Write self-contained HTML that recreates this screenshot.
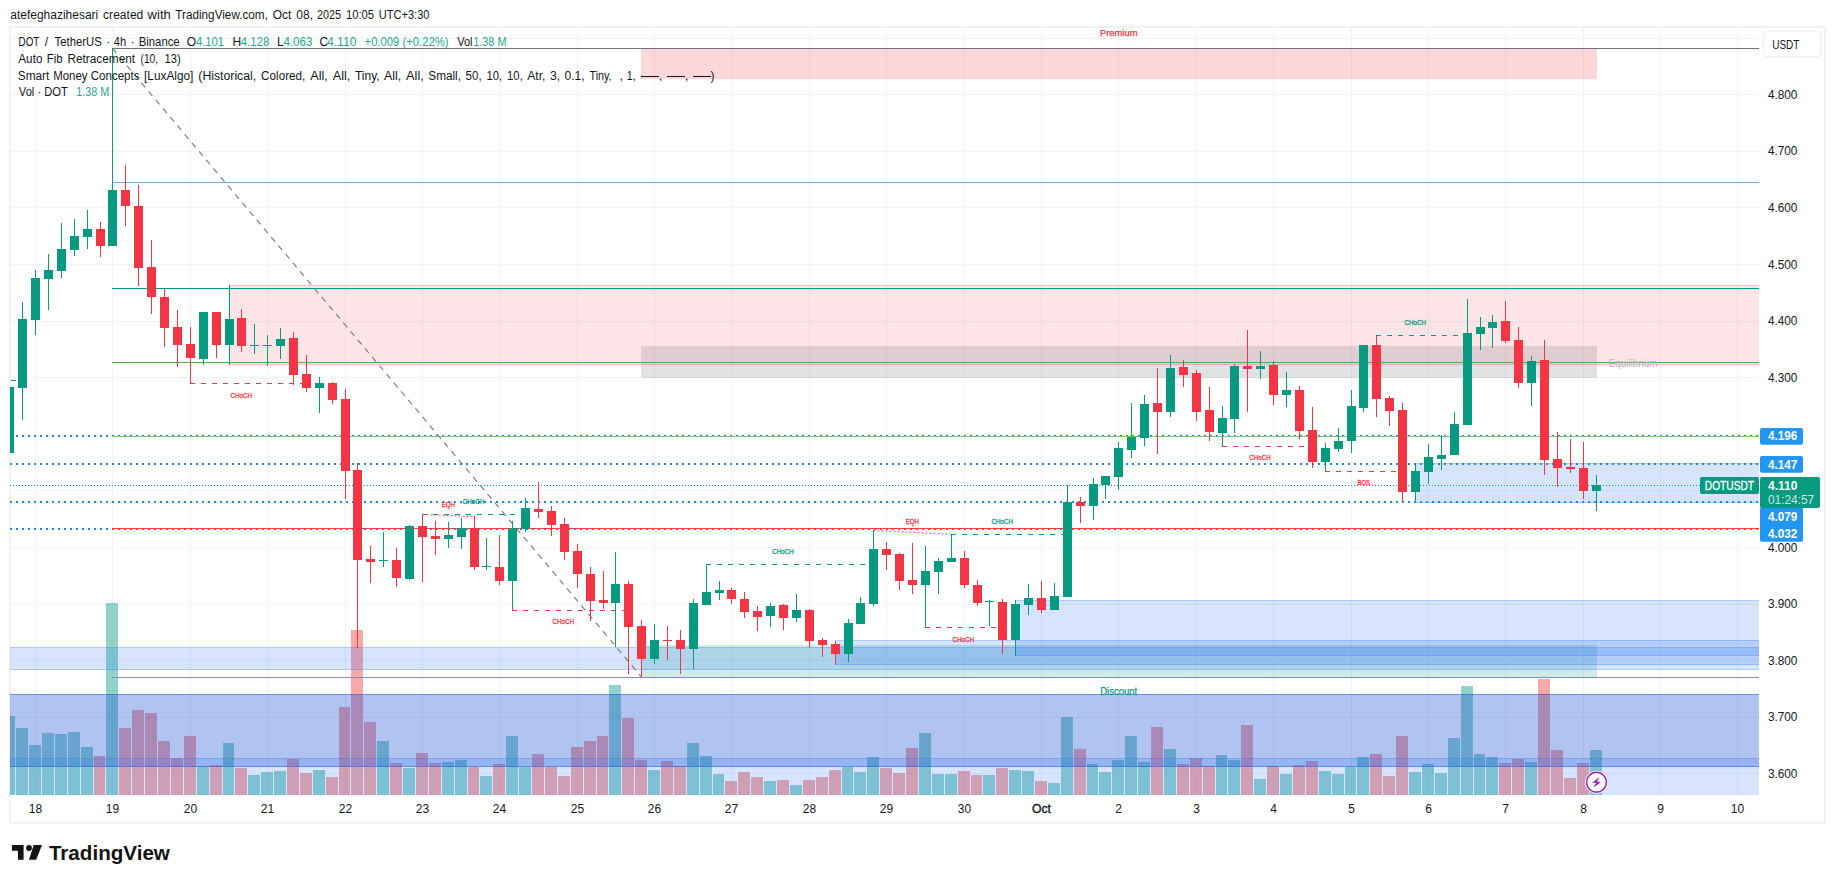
<!DOCTYPE html>
<html><head><meta charset="utf-8"><title>DOTUSDT chart</title><style>html,body{margin:0;padding:0;background:#fff}body{width:1835px;height:883px;overflow:hidden;font-family:"Liberation Sans",sans-serif}svg{display:block}</style></head><body>
<svg width="1835" height="883" viewBox="0 0 1835 883" font-family="&quot;Liberation Sans&quot;, sans-serif">
<rect width="1835" height="883" fill="#ffffff"/>
<g shape-rendering="crispEdges">
<rect x="9" y="26" width="1817" height="798" fill="#f2f2f3" />
<rect x="11" y="28" width="1813" height="794" fill="#ffffff" />
<rect x="35" y="28" width="1" height="767" fill="#f2f3f5" />
<rect x="112" y="28" width="1" height="767" fill="#f2f3f5" />
<rect x="190" y="28" width="1" height="767" fill="#f2f3f5" />
<rect x="267" y="28" width="1" height="767" fill="#f2f3f5" />
<rect x="345" y="28" width="1" height="767" fill="#f2f3f5" />
<rect x="422" y="28" width="1" height="767" fill="#f2f3f5" />
<rect x="499" y="28" width="1" height="767" fill="#f2f3f5" />
<rect x="577" y="28" width="1" height="767" fill="#f2f3f5" />
<rect x="654" y="28" width="1" height="767" fill="#f2f3f5" />
<rect x="731" y="28" width="1" height="767" fill="#f2f3f5" />
<rect x="809" y="28" width="1" height="767" fill="#f2f3f5" />
<rect x="886" y="28" width="1" height="767" fill="#f2f3f5" />
<rect x="964" y="28" width="1" height="767" fill="#f2f3f5" />
<rect x="1041" y="28" width="1" height="767" fill="#f2f3f5" />
<rect x="1118" y="28" width="1" height="767" fill="#f2f3f5" />
<rect x="1196" y="28" width="1" height="767" fill="#f2f3f5" />
<rect x="1273" y="28" width="1" height="767" fill="#f2f3f5" />
<rect x="1351" y="28" width="1" height="767" fill="#f2f3f5" />
<rect x="1428" y="28" width="1" height="767" fill="#f2f3f5" />
<rect x="1505" y="28" width="1" height="767" fill="#f2f3f5" />
<rect x="1583" y="28" width="1" height="767" fill="#f2f3f5" />
<rect x="1660" y="28" width="1" height="767" fill="#f2f3f5" />
<rect x="1737" y="28" width="1" height="767" fill="#f2f3f5" />
<rect x="10" y="773" width="1749" height="1" fill="#f2f3f5" />
<rect x="10" y="717" width="1749" height="1" fill="#f2f3f5" />
<rect x="10" y="660" width="1749" height="1" fill="#f2f3f5" />
<rect x="10" y="604" width="1749" height="1" fill="#f2f3f5" />
<rect x="10" y="547" width="1749" height="1" fill="#f2f3f5" />
<rect x="10" y="490" width="1749" height="1" fill="#f2f3f5" />
<rect x="10" y="434" width="1749" height="1" fill="#f2f3f5" />
<rect x="10" y="377" width="1749" height="1" fill="#f2f3f5" />
<rect x="10" y="321" width="1749" height="1" fill="#f2f3f5" />
<rect x="10" y="264" width="1749" height="1" fill="#f2f3f5" />
<rect x="10" y="207" width="1749" height="1" fill="#f2f3f5" />
<rect x="10" y="151" width="1749" height="1" fill="#f2f3f5" />
<rect x="10" y="94" width="1749" height="1" fill="#f2f3f5" />
<rect x="10" y="38" width="1749" height="1" fill="#f2f3f5" />
</g>
<g shape-rendering="crispEdges">
<rect x="10" y="716" width="5" height="79" fill="rgba(38,166,154,0.5)" />
<rect x="16" y="728" width="12" height="67" fill="rgba(38,166,154,0.5)" />
<rect x="29" y="745" width="12" height="50" fill="rgba(38,166,154,0.5)" />
<rect x="42" y="733" width="12" height="62" fill="rgba(38,166,154,0.5)" />
<rect x="55" y="734" width="12" height="61" fill="rgba(38,166,154,0.5)" />
<rect x="68" y="732" width="12" height="63" fill="rgba(38,166,154,0.5)" />
<rect x="81" y="747" width="12" height="48" fill="rgba(38,166,154,0.5)" />
<rect x="94" y="756" width="11" height="39" fill="rgba(239,83,80,0.5)" />
<rect x="106" y="603" width="12" height="192" fill="rgba(38,166,154,0.5)" />
<rect x="119" y="728" width="12" height="67" fill="rgba(239,83,80,0.5)" />
<rect x="132" y="710" width="12" height="85" fill="rgba(239,83,80,0.5)" />
<rect x="145" y="713" width="12" height="82" fill="rgba(239,83,80,0.5)" />
<rect x="158" y="741" width="12" height="54" fill="rgba(239,83,80,0.5)" />
<rect x="171" y="758" width="12" height="37" fill="rgba(239,83,80,0.5)" />
<rect x="184" y="736" width="12" height="59" fill="rgba(239,83,80,0.5)" />
<rect x="197" y="766" width="12" height="29" fill="rgba(38,166,154,0.5)" />
<rect x="210" y="765" width="12" height="30" fill="rgba(239,83,80,0.5)" />
<rect x="223" y="743" width="11" height="52" fill="rgba(38,166,154,0.5)" />
<rect x="235" y="768" width="12" height="27" fill="rgba(239,83,80,0.5)" />
<rect x="248" y="775" width="12" height="20" fill="rgba(38,166,154,0.5)" />
<rect x="261" y="772" width="12" height="23" fill="rgba(38,166,154,0.5)" />
<rect x="274" y="771" width="12" height="24" fill="rgba(38,166,154,0.5)" />
<rect x="287" y="759" width="12" height="36" fill="rgba(239,83,80,0.5)" />
<rect x="300" y="773" width="12" height="22" fill="rgba(239,83,80,0.5)" />
<rect x="313" y="770" width="12" height="25" fill="rgba(38,166,154,0.5)" />
<rect x="326" y="777" width="12" height="18" fill="rgba(239,83,80,0.5)" />
<rect x="339" y="707" width="11" height="88" fill="rgba(239,83,80,0.5)" />
<rect x="351" y="630" width="12" height="165" fill="rgba(239,83,80,0.5)" />
<rect x="364" y="722" width="12" height="73" fill="rgba(239,83,80,0.5)" />
<rect x="377" y="741" width="12" height="54" fill="rgba(38,166,154,0.5)" />
<rect x="390" y="763" width="12" height="32" fill="rgba(239,83,80,0.5)" />
<rect x="403" y="768" width="12" height="27" fill="rgba(38,166,154,0.5)" />
<rect x="416" y="753" width="12" height="42" fill="rgba(239,83,80,0.5)" />
<rect x="429" y="763" width="12" height="32" fill="rgba(239,83,80,0.5)" />
<rect x="442" y="762" width="12" height="33" fill="rgba(38,166,154,0.5)" />
<rect x="455" y="760" width="12" height="35" fill="rgba(38,166,154,0.5)" />
<rect x="468" y="767" width="11" height="28" fill="rgba(239,83,80,0.5)" />
<rect x="480" y="776" width="12" height="19" fill="rgba(38,166,154,0.5)" />
<rect x="493" y="764" width="12" height="31" fill="rgba(239,83,80,0.5)" />
<rect x="506" y="736" width="12" height="59" fill="rgba(38,166,154,0.5)" />
<rect x="519" y="767" width="12" height="28" fill="rgba(38,166,154,0.5)" />
<rect x="532" y="754" width="12" height="41" fill="rgba(239,83,80,0.5)" />
<rect x="545" y="767" width="12" height="28" fill="rgba(239,83,80,0.5)" />
<rect x="558" y="776" width="12" height="19" fill="rgba(239,83,80,0.5)" />
<rect x="571" y="747" width="12" height="48" fill="rgba(239,83,80,0.5)" />
<rect x="584" y="741" width="12" height="54" fill="rgba(239,83,80,0.5)" />
<rect x="597" y="736" width="11" height="59" fill="rgba(239,83,80,0.5)" />
<rect x="609" y="685" width="12" height="110" fill="rgba(38,166,154,0.5)" />
<rect x="622" y="718" width="12" height="77" fill="rgba(239,83,80,0.5)" />
<rect x="635" y="760" width="12" height="35" fill="rgba(239,83,80,0.5)" />
<rect x="648" y="770" width="12" height="25" fill="rgba(38,166,154,0.5)" />
<rect x="661" y="761" width="12" height="34" fill="rgba(239,83,80,0.5)" />
<rect x="674" y="766" width="12" height="29" fill="rgba(239,83,80,0.5)" />
<rect x="687" y="743" width="12" height="52" fill="rgba(38,166,154,0.5)" />
<rect x="700" y="756" width="12" height="39" fill="rgba(38,166,154,0.5)" />
<rect x="713" y="774" width="11" height="21" fill="rgba(38,166,154,0.5)" />
<rect x="725" y="781" width="12" height="14" fill="rgba(239,83,80,0.5)" />
<rect x="738" y="772" width="12" height="23" fill="rgba(239,83,80,0.5)" />
<rect x="751" y="777" width="12" height="18" fill="rgba(239,83,80,0.5)" />
<rect x="764" y="781" width="12" height="14" fill="rgba(38,166,154,0.5)" />
<rect x="777" y="780" width="12" height="15" fill="rgba(239,83,80,0.5)" />
<rect x="790" y="785" width="12" height="10" fill="rgba(38,166,154,0.5)" />
<rect x="803" y="780" width="12" height="15" fill="rgba(239,83,80,0.5)" />
<rect x="816" y="777" width="12" height="18" fill="rgba(239,83,80,0.5)" />
<rect x="829" y="770" width="12" height="25" fill="rgba(239,83,80,0.5)" />
<rect x="842" y="767" width="11" height="28" fill="rgba(38,166,154,0.5)" />
<rect x="854" y="772" width="12" height="23" fill="rgba(38,166,154,0.5)" />
<rect x="867" y="757" width="12" height="38" fill="rgba(38,166,154,0.5)" />
<rect x="880" y="768" width="12" height="27" fill="rgba(239,83,80,0.5)" />
<rect x="893" y="773" width="12" height="22" fill="rgba(239,83,80,0.5)" />
<rect x="906" y="748" width="12" height="47" fill="rgba(239,83,80,0.5)" />
<rect x="919" y="733" width="12" height="62" fill="rgba(38,166,154,0.5)" />
<rect x="932" y="774" width="12" height="21" fill="rgba(38,166,154,0.5)" />
<rect x="945" y="774" width="12" height="21" fill="rgba(38,166,154,0.5)" />
<rect x="958" y="771" width="12" height="24" fill="rgba(239,83,80,0.5)" />
<rect x="971" y="775" width="11" height="20" fill="rgba(239,83,80,0.5)" />
<rect x="983" y="775" width="12" height="20" fill="rgba(38,166,154,0.5)" />
<rect x="996" y="768" width="12" height="27" fill="rgba(239,83,80,0.5)" />
<rect x="1009" y="770" width="12" height="25" fill="rgba(38,166,154,0.5)" />
<rect x="1022" y="771" width="12" height="24" fill="rgba(38,166,154,0.5)" />
<rect x="1035" y="781" width="12" height="14" fill="rgba(239,83,80,0.5)" />
<rect x="1048" y="783" width="12" height="12" fill="rgba(38,166,154,0.5)" />
<rect x="1061" y="717" width="12" height="78" fill="rgba(38,166,154,0.5)" />
<rect x="1074" y="749" width="12" height="46" fill="rgba(239,83,80,0.5)" />
<rect x="1087" y="764" width="11" height="31" fill="rgba(38,166,154,0.5)" />
<rect x="1099" y="772" width="12" height="23" fill="rgba(38,166,154,0.5)" />
<rect x="1112" y="760" width="12" height="35" fill="rgba(38,166,154,0.5)" />
<rect x="1125" y="736" width="12" height="59" fill="rgba(38,166,154,0.5)" />
<rect x="1138" y="762" width="12" height="33" fill="rgba(38,166,154,0.5)" />
<rect x="1151" y="727" width="12" height="68" fill="rgba(239,83,80,0.5)" />
<rect x="1164" y="749" width="12" height="46" fill="rgba(38,166,154,0.5)" />
<rect x="1177" y="764" width="12" height="31" fill="rgba(239,83,80,0.5)" />
<rect x="1190" y="758" width="12" height="37" fill="rgba(239,83,80,0.5)" />
<rect x="1203" y="766" width="12" height="29" fill="rgba(239,83,80,0.5)" />
<rect x="1216" y="755" width="11" height="40" fill="rgba(38,166,154,0.5)" />
<rect x="1228" y="760" width="12" height="35" fill="rgba(38,166,154,0.5)" />
<rect x="1241" y="725" width="12" height="70" fill="rgba(239,83,80,0.5)" />
<rect x="1254" y="779" width="12" height="16" fill="rgba(38,166,154,0.5)" />
<rect x="1267" y="766" width="12" height="29" fill="rgba(239,83,80,0.5)" />
<rect x="1280" y="774" width="12" height="21" fill="rgba(38,166,154,0.5)" />
<rect x="1293" y="765" width="12" height="30" fill="rgba(239,83,80,0.5)" />
<rect x="1306" y="761" width="12" height="34" fill="rgba(239,83,80,0.5)" />
<rect x="1319" y="771" width="12" height="24" fill="rgba(38,166,154,0.5)" />
<rect x="1332" y="774" width="12" height="21" fill="rgba(38,166,154,0.5)" />
<rect x="1345" y="767" width="11" height="28" fill="rgba(38,166,154,0.5)" />
<rect x="1357" y="757" width="12" height="38" fill="rgba(38,166,154,0.5)" />
<rect x="1370" y="754" width="12" height="41" fill="rgba(239,83,80,0.5)" />
<rect x="1383" y="776" width="12" height="19" fill="rgba(239,83,80,0.5)" />
<rect x="1396" y="736" width="12" height="59" fill="rgba(239,83,80,0.5)" />
<rect x="1409" y="772" width="12" height="23" fill="rgba(38,166,154,0.5)" />
<rect x="1422" y="764" width="12" height="31" fill="rgba(38,166,154,0.5)" />
<rect x="1435" y="773" width="12" height="22" fill="rgba(38,166,154,0.5)" />
<rect x="1448" y="738" width="12" height="57" fill="rgba(38,166,154,0.5)" />
<rect x="1461" y="686" width="12" height="109" fill="rgba(38,166,154,0.5)" />
<rect x="1474" y="754" width="11" height="41" fill="rgba(38,166,154,0.5)" />
<rect x="1486" y="757" width="12" height="38" fill="rgba(38,166,154,0.5)" />
<rect x="1499" y="763" width="12" height="32" fill="rgba(239,83,80,0.5)" />
<rect x="1512" y="759" width="12" height="36" fill="rgba(239,83,80,0.5)" />
<rect x="1525" y="762" width="12" height="33" fill="rgba(38,166,154,0.5)" />
<rect x="1538" y="679" width="12" height="116" fill="rgba(239,83,80,0.5)" />
<rect x="1551" y="750" width="12" height="45" fill="rgba(239,83,80,0.5)" />
<rect x="1564" y="778" width="12" height="17" fill="rgba(239,83,80,0.5)" />
<rect x="1577" y="763" width="12" height="32" fill="rgba(239,83,80,0.5)" />
<rect x="1590" y="750" width="12" height="45" fill="rgba(38,166,154,0.5)" />
</g>
<g shape-rendering="crispEdges">
<rect x="641" y="49" width="956" height="30" fill="rgba(242,54,69,0.2)" />
<rect x="229" y="285" width="1530" height="80" fill="rgba(242,54,69,0.13)" />
<rect x="229" y="285" width="1530" height="1" fill="rgba(242,54,69,0.18)" />
<rect x="229" y="364" width="1530" height="1" fill="rgba(242,54,69,0.18)" />
<rect x="641" y="346" width="956" height="32" fill="rgba(120,123,134,0.22)" />
<rect x="641" y="645" width="956" height="32" fill="rgba(8,153,129,0.2)" />
<rect x="10" y="647" width="1749" height="23" fill="rgba(49,121,245,0.2)" />
<rect x="10" y="647" width="1749" height="1" fill="rgba(49,121,245,0.25)" />
<rect x="10" y="669" width="1749" height="1" fill="rgba(49,121,245,0.25)" />
<rect x="835" y="640" width="924" height="25" fill="rgba(49,121,245,0.2)" />
<rect x="835" y="640" width="924" height="1" fill="rgba(49,121,245,0.25)" />
<rect x="835" y="664" width="924" height="1" fill="rgba(49,121,245,0.25)" />
<rect x="1015" y="600" width="744" height="56" fill="rgba(49,121,245,0.2)" />
<rect x="1015" y="600" width="744" height="1" fill="rgba(49,121,245,0.25)" />
<rect x="1015" y="655" width="744" height="1" fill="rgba(49,121,245,0.25)" />
<rect x="1415" y="463" width="344" height="40" fill="rgba(49,121,245,0.2)" />
<rect x="1415" y="463" width="344" height="1" fill="rgba(49,121,245,0.25)" />
<rect x="1415" y="502" width="344" height="1" fill="rgba(49,121,245,0.25)" />
<rect x="10" y="694" width="1749" height="73" fill="rgba(16,73,213,0.33)" />
<rect x="10" y="694" width="1749" height="1" fill="rgba(16,73,213,0.4)" />
<rect x="10" y="766" width="1749" height="1" fill="rgba(16,73,213,0.4)" />
<rect x="10" y="758" width="1749" height="37" fill="rgba(49,121,245,0.2)" />
<rect x="10" y="758" width="1749" height="1" fill="rgba(49,121,245,0.25)" />
</g>
<g shape-rendering="crispEdges">
<rect x="112" y="48" width="1647" height="1" fill="#6f727d" />
<rect x="112" y="182" width="1647" height="1" fill="#64b5f6" />
<rect x="112" y="288" width="1647" height="1" fill="#009688" />
<rect x="112" y="362" width="1647" height="1" fill="#4caf50" />
<rect x="112" y="677" width="1647" height="1" fill="#8a8dbb" />
<path d="M10 436H1759" stroke="#1c86f2" stroke-width="2" stroke-dasharray="2 4" fill="none"/>
<path d="M10 464H1759" stroke="#1c86f2" stroke-width="2" stroke-dasharray="2 4" fill="none"/>
<path d="M10 502H1759" stroke="#1c86f2" stroke-width="2" stroke-dasharray="2 4" fill="none"/>
<path d="M10 529H1759" stroke="#1c86f2" stroke-width="2" stroke-dasharray="2 4" fill="none"/>
<rect x="112" y="528" width="1647" height="1" fill="#f44336" />
<rect x="112" y="436" width="1647" height="1" fill="#81c784" />
<path d="M10 485.5H1700" stroke="#089981" stroke-width="1" stroke-dasharray="1 2" fill="none"/>
</g>
<path d="M112.5 48.5L641.5 677" stroke="#787b86" stroke-width="1.15" stroke-dasharray="6 5.2" fill="none"/>
<g shape-rendering="crispEdges" fill="none" stroke-width="1">
<path d="M190 383.5H302" stroke="#f23645" stroke-dasharray="5 6"/>
<path d="M422 514.5H519" stroke="#089981" stroke-dasharray="5 6"/>
<path d="M512 610.5H625" stroke="#f23645" stroke-dasharray="5 6"/>
<path d="M706 564.5H867" stroke="#089981" stroke-dasharray="5 6"/>
<path d="M951 534.5H1064" stroke="#089981" stroke-dasharray="5 6"/>
<path d="M925 627.5H997" stroke="#f23645" stroke-dasharray="5 6"/>
<path d="M1222 446.5H1306" stroke="#f23645" stroke-dasharray="5 6"/>
<path d="M1325 471.5H1397" stroke="#f23645" stroke-dasharray="5 6"/>
<path d="M1376 335.5H1461" stroke="#089981" stroke-dasharray="5 6"/>
</g>
<path d="M422.5 514.5L474.5 516.5" stroke="rgba(242,54,69,0.7)" stroke-width="1.3" stroke-dasharray="2 2" fill="none"/>
<path d="M873.5 530.5L951.5 534.3" stroke="rgba(242,54,69,0.7)" stroke-width="1.3" stroke-dasharray="2 2" fill="none"/>
<g shape-rendering="crispEdges">
<rect x="11" y="380" width="5" height="1" fill="#089981" />
<rect x="10" y="387" width="4" height="66" fill="#089981" />
<rect x="22" y="302" width="1" height="118" fill="#089981" />
<rect x="18" y="319" width="9" height="69" fill="#089981" />
<rect x="35" y="270" width="1" height="65" fill="#089981" />
<rect x="31" y="278" width="9" height="42" fill="#089981" />
<rect x="48" y="254" width="1" height="56" fill="#089981" />
<rect x="44" y="270" width="9" height="9" fill="#089981" />
<rect x="61" y="223" width="1" height="55" fill="#089981" />
<rect x="57" y="249" width="9" height="22" fill="#089981" />
<rect x="74" y="219" width="1" height="37" fill="#089981" />
<rect x="70" y="236" width="9" height="14" fill="#089981" />
<rect x="87" y="210" width="1" height="39" fill="#089981" />
<rect x="83" y="229" width="9" height="8" fill="#089981" />
<rect x="100" y="222" width="1" height="35" fill="#f23645" />
<rect x="96" y="229" width="9" height="17" fill="#f23645" />
<rect x="112" y="48" width="1" height="198" fill="#089981" />
<rect x="108" y="190" width="9" height="56" fill="#089981" />
<rect x="125" y="165" width="1" height="61" fill="#f23645" />
<rect x="121" y="190" width="9" height="16" fill="#f23645" />
<rect x="138" y="185" width="1" height="101" fill="#f23645" />
<rect x="134" y="206" width="9" height="62" fill="#f23645" />
<rect x="151" y="240" width="1" height="74" fill="#f23645" />
<rect x="147" y="267" width="9" height="30" fill="#f23645" />
<rect x="164" y="288" width="1" height="59" fill="#f23645" />
<rect x="160" y="297" width="9" height="31" fill="#f23645" />
<rect x="177" y="310" width="1" height="57" fill="#f23645" />
<rect x="173" y="327" width="9" height="18" fill="#f23645" />
<rect x="190" y="327" width="1" height="56" fill="#f23645" />
<rect x="186" y="344" width="9" height="14" fill="#f23645" />
<rect x="203" y="312" width="1" height="53" fill="#089981" />
<rect x="199" y="312" width="9" height="47" fill="#089981" />
<rect x="216" y="312" width="1" height="46" fill="#f23645" />
<rect x="212" y="312" width="9" height="33" fill="#f23645" />
<rect x="229" y="285" width="1" height="80" fill="#089981" />
<rect x="225" y="319" width="9" height="26" fill="#089981" />
<rect x="241" y="309" width="1" height="43" fill="#f23645" />
<rect x="237" y="318" width="9" height="28" fill="#f23645" />
<rect x="254" y="324" width="1" height="30" fill="#089981" />
<rect x="250" y="345" width="9" height="1" fill="#089981" />
<rect x="267" y="335" width="1" height="31" fill="#089981" />
<rect x="263" y="345" width="9" height="1" fill="#089981" />
<rect x="280" y="328" width="1" height="31" fill="#089981" />
<rect x="276" y="339" width="9" height="7" fill="#089981" />
<rect x="293" y="332" width="1" height="53" fill="#f23645" />
<rect x="289" y="338" width="9" height="37" fill="#f23645" />
<rect x="306" y="355" width="1" height="37" fill="#f23645" />
<rect x="302" y="374" width="9" height="14" fill="#f23645" />
<rect x="319" y="377" width="1" height="36" fill="#089981" />
<rect x="315" y="383" width="9" height="5" fill="#089981" />
<rect x="332" y="382" width="1" height="22" fill="#f23645" />
<rect x="328" y="383" width="9" height="17" fill="#f23645" />
<rect x="345" y="389" width="1" height="110" fill="#f23645" />
<rect x="341" y="399" width="9" height="72" fill="#f23645" />
<rect x="357" y="463" width="1" height="185" fill="#f23645" />
<rect x="353" y="470" width="9" height="90" fill="#f23645" />
<rect x="370" y="546" width="1" height="37" fill="#f23645" />
<rect x="366" y="559" width="9" height="3" fill="#f23645" />
<rect x="383" y="532" width="1" height="35" fill="#089981" />
<rect x="379" y="560" width="9" height="1" fill="#089981" />
<rect x="396" y="548" width="1" height="39" fill="#f23645" />
<rect x="392" y="560" width="9" height="18" fill="#f23645" />
<rect x="409" y="525" width="1" height="55" fill="#089981" />
<rect x="405" y="526" width="9" height="53" fill="#089981" />
<rect x="422" y="514" width="1" height="68" fill="#f23645" />
<rect x="418" y="526" width="9" height="11" fill="#f23645" />
<rect x="435" y="521" width="1" height="34" fill="#f23645" />
<rect x="431" y="536" width="9" height="3" fill="#f23645" />
<rect x="448" y="522" width="1" height="26" fill="#089981" />
<rect x="444" y="535" width="9" height="4" fill="#089981" />
<rect x="461" y="518" width="1" height="31" fill="#089981" />
<rect x="457" y="528" width="9" height="9" fill="#089981" />
<rect x="474" y="516" width="1" height="54" fill="#f23645" />
<rect x="470" y="528" width="9" height="39" fill="#f23645" />
<rect x="486" y="538" width="1" height="32" fill="#089981" />
<rect x="482" y="566" width="9" height="1" fill="#089981" />
<rect x="499" y="535" width="1" height="50" fill="#f23645" />
<rect x="495" y="567" width="9" height="14" fill="#f23645" />
<rect x="512" y="521" width="1" height="89" fill="#089981" />
<rect x="508" y="528" width="9" height="53" fill="#089981" />
<rect x="525" y="498" width="1" height="34" fill="#089981" />
<rect x="521" y="508" width="9" height="21" fill="#089981" />
<rect x="538" y="482" width="1" height="36" fill="#f23645" />
<rect x="534" y="509" width="9" height="3" fill="#f23645" />
<rect x="551" y="506" width="1" height="30" fill="#f23645" />
<rect x="547" y="511" width="9" height="14" fill="#f23645" />
<rect x="564" y="518" width="1" height="42" fill="#f23645" />
<rect x="560" y="524" width="9" height="28" fill="#f23645" />
<rect x="577" y="544" width="1" height="44" fill="#f23645" />
<rect x="573" y="551" width="9" height="23" fill="#f23645" />
<rect x="590" y="567" width="1" height="54" fill="#f23645" />
<rect x="586" y="574" width="9" height="27" fill="#f23645" />
<rect x="603" y="571" width="1" height="38" fill="#f23645" />
<rect x="599" y="600" width="9" height="3" fill="#f23645" />
<rect x="615" y="552" width="1" height="95" fill="#089981" />
<rect x="611" y="584" width="9" height="19" fill="#089981" />
<rect x="628" y="581" width="1" height="93" fill="#f23645" />
<rect x="624" y="584" width="9" height="43" fill="#f23645" />
<rect x="641" y="620" width="1" height="57" fill="#f23645" />
<rect x="637" y="626" width="9" height="33" fill="#f23645" />
<rect x="654" y="624" width="1" height="40" fill="#089981" />
<rect x="650" y="640" width="9" height="19" fill="#089981" />
<rect x="667" y="626" width="1" height="34" fill="#f23645" />
<rect x="663" y="640" width="9" height="1" fill="#f23645" />
<rect x="680" y="630" width="1" height="44" fill="#f23645" />
<rect x="676" y="640" width="9" height="9" fill="#f23645" />
<rect x="693" y="599" width="1" height="70" fill="#089981" />
<rect x="689" y="603" width="9" height="46" fill="#089981" />
<rect x="706" y="564" width="1" height="41" fill="#089981" />
<rect x="702" y="592" width="9" height="13" fill="#089981" />
<rect x="719" y="581" width="1" height="19" fill="#089981" />
<rect x="715" y="590" width="9" height="3" fill="#089981" />
<rect x="731" y="588" width="1" height="16" fill="#f23645" />
<rect x="727" y="590" width="9" height="9" fill="#f23645" />
<rect x="744" y="592" width="1" height="26" fill="#f23645" />
<rect x="740" y="599" width="9" height="13" fill="#f23645" />
<rect x="757" y="606" width="1" height="25" fill="#f23645" />
<rect x="753" y="611" width="9" height="6" fill="#f23645" />
<rect x="770" y="603" width="1" height="24" fill="#089981" />
<rect x="766" y="606" width="9" height="10" fill="#089981" />
<rect x="783" y="604" width="1" height="26" fill="#f23645" />
<rect x="779" y="605" width="9" height="13" fill="#f23645" />
<rect x="796" y="594" width="1" height="28" fill="#089981" />
<rect x="792" y="610" width="9" height="8" fill="#089981" />
<rect x="809" y="609" width="1" height="39" fill="#f23645" />
<rect x="805" y="610" width="9" height="31" fill="#f23645" />
<rect x="822" y="638" width="1" height="19" fill="#f23645" />
<rect x="818" y="640" width="9" height="5" fill="#f23645" />
<rect x="835" y="641" width="1" height="24" fill="#f23645" />
<rect x="831" y="644" width="9" height="10" fill="#f23645" />
<rect x="848" y="619" width="1" height="43" fill="#089981" />
<rect x="844" y="623" width="9" height="31" fill="#089981" />
<rect x="860" y="597" width="1" height="27" fill="#089981" />
<rect x="856" y="603" width="9" height="21" fill="#089981" />
<rect x="873" y="530" width="1" height="76" fill="#089981" />
<rect x="869" y="549" width="9" height="55" fill="#089981" />
<rect x="886" y="542" width="1" height="28" fill="#f23645" />
<rect x="882" y="549" width="9" height="6" fill="#f23645" />
<rect x="899" y="553" width="1" height="37" fill="#f23645" />
<rect x="895" y="554" width="9" height="27" fill="#f23645" />
<rect x="912" y="543" width="1" height="51" fill="#f23645" />
<rect x="908" y="580" width="9" height="5" fill="#f23645" />
<rect x="925" y="546" width="1" height="82" fill="#089981" />
<rect x="921" y="571" width="9" height="14" fill="#089981" />
<rect x="938" y="558" width="1" height="36" fill="#089981" />
<rect x="934" y="561" width="9" height="11" fill="#089981" />
<rect x="951" y="534" width="1" height="28" fill="#089981" />
<rect x="947" y="558" width="9" height="4" fill="#089981" />
<rect x="964" y="551" width="1" height="37" fill="#f23645" />
<rect x="960" y="558" width="9" height="27" fill="#f23645" />
<rect x="977" y="580" width="1" height="26" fill="#f23645" />
<rect x="973" y="585" width="9" height="18" fill="#f23645" />
<rect x="989" y="600" width="1" height="26" fill="#089981" />
<rect x="985" y="601" width="9" height="1" fill="#089981" />
<rect x="1002" y="599" width="1" height="55" fill="#f23645" />
<rect x="998" y="602" width="9" height="38" fill="#f23645" />
<rect x="1015" y="600" width="1" height="56" fill="#089981" />
<rect x="1011" y="604" width="9" height="36" fill="#089981" />
<rect x="1028" y="584" width="1" height="31" fill="#089981" />
<rect x="1024" y="598" width="9" height="7" fill="#089981" />
<rect x="1041" y="581" width="1" height="32" fill="#f23645" />
<rect x="1037" y="598" width="9" height="12" fill="#f23645" />
<rect x="1054" y="583" width="1" height="27" fill="#089981" />
<rect x="1050" y="596" width="9" height="14" fill="#089981" />
<rect x="1067" y="485" width="1" height="112" fill="#089981" />
<rect x="1063" y="502" width="9" height="95" fill="#089981" />
<rect x="1080" y="497" width="1" height="26" fill="#f23645" />
<rect x="1076" y="502" width="9" height="4" fill="#f23645" />
<rect x="1093" y="478" width="1" height="42" fill="#089981" />
<rect x="1089" y="484" width="9" height="22" fill="#089981" />
<rect x="1105" y="476" width="1" height="23" fill="#089981" />
<rect x="1101" y="476" width="9" height="9" fill="#089981" />
<rect x="1118" y="442" width="1" height="48" fill="#089981" />
<rect x="1114" y="448" width="9" height="29" fill="#089981" />
<rect x="1131" y="403" width="1" height="55" fill="#089981" />
<rect x="1127" y="437" width="9" height="13" fill="#089981" />
<rect x="1144" y="395" width="1" height="51" fill="#089981" />
<rect x="1140" y="404" width="9" height="34" fill="#089981" />
<rect x="1157" y="368" width="1" height="86" fill="#f23645" />
<rect x="1153" y="403" width="9" height="9" fill="#f23645" />
<rect x="1170" y="355" width="1" height="62" fill="#089981" />
<rect x="1166" y="368" width="9" height="44" fill="#089981" />
<rect x="1183" y="360" width="1" height="27" fill="#f23645" />
<rect x="1179" y="367" width="9" height="8" fill="#f23645" />
<rect x="1196" y="370" width="1" height="51" fill="#f23645" />
<rect x="1192" y="373" width="9" height="39" fill="#f23645" />
<rect x="1209" y="387" width="1" height="54" fill="#f23645" />
<rect x="1205" y="410" width="9" height="22" fill="#f23645" />
<rect x="1222" y="406" width="1" height="40" fill="#089981" />
<rect x="1218" y="418" width="9" height="15" fill="#089981" />
<rect x="1234" y="364" width="1" height="69" fill="#089981" />
<rect x="1230" y="366" width="9" height="53" fill="#089981" />
<rect x="1247" y="330" width="1" height="82" fill="#f23645" />
<rect x="1243" y="366" width="9" height="3" fill="#f23645" />
<rect x="1260" y="351" width="1" height="28" fill="#089981" />
<rect x="1256" y="366" width="9" height="3" fill="#089981" />
<rect x="1273" y="361" width="1" height="44" fill="#f23645" />
<rect x="1269" y="365" width="9" height="30" fill="#f23645" />
<rect x="1286" y="372" width="1" height="35" fill="#089981" />
<rect x="1282" y="390" width="9" height="5" fill="#089981" />
<rect x="1299" y="386" width="1" height="53" fill="#f23645" />
<rect x="1295" y="390" width="9" height="41" fill="#f23645" />
<rect x="1312" y="407" width="1" height="61" fill="#f23645" />
<rect x="1308" y="430" width="9" height="32" fill="#f23645" />
<rect x="1325" y="443" width="1" height="28" fill="#089981" />
<rect x="1321" y="448" width="9" height="14" fill="#089981" />
<rect x="1338" y="428" width="1" height="24" fill="#089981" />
<rect x="1334" y="441" width="9" height="8" fill="#089981" />
<rect x="1351" y="390" width="1" height="63" fill="#089981" />
<rect x="1347" y="406" width="9" height="35" fill="#089981" />
<rect x="1363" y="345" width="1" height="67" fill="#089981" />
<rect x="1359" y="345" width="9" height="63" fill="#089981" />
<rect x="1376" y="336" width="1" height="81" fill="#f23645" />
<rect x="1372" y="345" width="9" height="54" fill="#f23645" />
<rect x="1389" y="396" width="1" height="30" fill="#f23645" />
<rect x="1385" y="398" width="9" height="13" fill="#f23645" />
<rect x="1402" y="403" width="1" height="99" fill="#f23645" />
<rect x="1398" y="410" width="9" height="82" fill="#f23645" />
<rect x="1415" y="464" width="1" height="38" fill="#089981" />
<rect x="1411" y="471" width="9" height="21" fill="#089981" />
<rect x="1428" y="444" width="1" height="40" fill="#089981" />
<rect x="1424" y="457" width="9" height="15" fill="#089981" />
<rect x="1441" y="435" width="1" height="35" fill="#089981" />
<rect x="1437" y="455" width="9" height="4" fill="#089981" />
<rect x="1454" y="412" width="1" height="43" fill="#089981" />
<rect x="1450" y="424" width="9" height="31" fill="#089981" />
<rect x="1467" y="299" width="1" height="126" fill="#089981" />
<rect x="1463" y="333" width="9" height="92" fill="#089981" />
<rect x="1480" y="317" width="1" height="33" fill="#089981" />
<rect x="1476" y="327" width="9" height="7" fill="#089981" />
<rect x="1492" y="315" width="1" height="33" fill="#089981" />
<rect x="1488" y="322" width="9" height="6" fill="#089981" />
<rect x="1505" y="301" width="1" height="42" fill="#f23645" />
<rect x="1501" y="321" width="9" height="20" fill="#f23645" />
<rect x="1518" y="327" width="1" height="61" fill="#f23645" />
<rect x="1514" y="340" width="9" height="43" fill="#f23645" />
<rect x="1531" y="356" width="1" height="50" fill="#089981" />
<rect x="1527" y="361" width="9" height="22" fill="#089981" />
<rect x="1544" y="340" width="1" height="135" fill="#f23645" />
<rect x="1540" y="360" width="9" height="100" fill="#f23645" />
<rect x="1557" y="432" width="1" height="55" fill="#f23645" />
<rect x="1553" y="459" width="9" height="9" fill="#f23645" />
<rect x="1570" y="439" width="1" height="34" fill="#f23645" />
<rect x="1566" y="467" width="9" height="2" fill="#f23645" />
<rect x="1583" y="442" width="1" height="57" fill="#f23645" />
<rect x="1579" y="468" width="9" height="23" fill="#f23645" />
<rect x="1596" y="475" width="1" height="36" fill="#089981" />
<rect x="1592" y="485" width="9" height="6" fill="#089981" />
</g>
<text x="241.2" y="398.2" font-size="8" fill="#f23645" text-anchor="middle" textLength="21.5" lengthAdjust="spacingAndGlyphs" stroke="#f23645" stroke-width="0.3">CHoCH</text>
<text x="448.4" y="507.2" font-size="8" fill="#f23645" text-anchor="middle" textLength="13.4" lengthAdjust="spacingAndGlyphs" stroke="#f23645" stroke-width="0.3">EQH</text>
<text x="473.4" y="504" font-size="8" fill="#089981" text-anchor="middle" textLength="21.5" lengthAdjust="spacingAndGlyphs" stroke="#089981" stroke-width="0.3">CHoCH</text>
<text x="563.3" y="623.9" font-size="8" fill="#f23645" text-anchor="middle" textLength="21.5" lengthAdjust="spacingAndGlyphs" stroke="#f23645" stroke-width="0.3">CHoCH</text>
<text x="783" y="554.1" font-size="8" fill="#089981" text-anchor="middle" textLength="21.5" lengthAdjust="spacingAndGlyphs" stroke="#089981" stroke-width="0.3">CHoCH</text>
<text x="912.4" y="523.9" font-size="8" fill="#f23645" text-anchor="middle" textLength="13.4" lengthAdjust="spacingAndGlyphs" stroke="#f23645" stroke-width="0.3">EQH</text>
<text x="1002.2" y="523.9" font-size="8" fill="#089981" text-anchor="middle" textLength="21.5" lengthAdjust="spacingAndGlyphs" stroke="#089981" stroke-width="0.3">CHoCH</text>
<text x="963.3" y="641.9" font-size="8" fill="#f23645" text-anchor="middle" textLength="21.5" lengthAdjust="spacingAndGlyphs" stroke="#f23645" stroke-width="0.3">CHoCH</text>
<text x="1260" y="459.7" font-size="8" fill="#f23645" text-anchor="middle" textLength="21.5" lengthAdjust="spacingAndGlyphs" stroke="#f23645" stroke-width="0.3">CHoCH</text>
<text x="1363.7" y="485" font-size="8" fill="#f23645" text-anchor="middle" textLength="12.5" lengthAdjust="spacingAndGlyphs" stroke="#f23645" stroke-width="0.3">BOS</text>
<text x="1415.3" y="324.9" font-size="8" fill="#089981" text-anchor="middle" textLength="21.5" lengthAdjust="spacingAndGlyphs" stroke="#089981" stroke-width="0.3">CHoCH</text>
<text x="1118.7" y="35.8" font-size="9.5" fill="#f23645" text-anchor="middle" textLength="37.6" lengthAdjust="spacingAndGlyphs" stroke="#f23645" stroke-width="0.25">Premium</text>
<text x="1118.7" y="695" font-size="10" fill="#089981" text-anchor="middle" textLength="37" lengthAdjust="spacingAndGlyphs" stroke="#089981" stroke-width="0.25">Discount</text>
<text x="1633" y="366.8" font-size="10" fill="#b2b5be" text-anchor="middle" textLength="49" lengthAdjust="spacingAndGlyphs" >Equilibrium</text>
<text x="10.3" y="18.7" font-size="12" fill="#131722" textLength="87.9" lengthAdjust="spacingAndGlyphs" >atefeghazihesari</text>
<text x="103.1" y="18.7" font-size="12" fill="#131722" textLength="40.2" lengthAdjust="spacingAndGlyphs" >created</text>
<text x="147.6" y="18.7" font-size="12" fill="#131722" textLength="23.2" lengthAdjust="spacingAndGlyphs" >with</text>
<text x="175.3" y="18.7" font-size="12" fill="#131722" textLength="92.6" lengthAdjust="spacingAndGlyphs" >TradingView.com,</text>
<text x="272.8" y="18.7" font-size="12" fill="#131722" textLength="18.6" lengthAdjust="spacingAndGlyphs" >Oct</text>
<text x="296.3" y="18.7" font-size="12" fill="#131722" textLength="16.7" lengthAdjust="spacingAndGlyphs" >08,</text>
<text x="316.9" y="18.7" font-size="12" fill="#131722" textLength="24" lengthAdjust="spacingAndGlyphs" >2025</text>
<text x="345.9" y="18.7" font-size="12" fill="#131722" textLength="28.1" lengthAdjust="spacingAndGlyphs" >10:05</text>
<text x="378.8" y="18.7" font-size="12" fill="#131722" textLength="50.7" lengthAdjust="spacingAndGlyphs" >UTC+3:30</text>
<text x="18.6" y="45.6" font-size="12" fill="#131722" textLength="20.8" lengthAdjust="spacingAndGlyphs" >DOT</text>
<text x="44.8" y="45.6" font-size="12" fill="#131722" >/</text>
<text x="54.6" y="45.6" font-size="12" fill="#131722" textLength="47.1" lengthAdjust="spacingAndGlyphs" >TetherUS</text>
<text x="106.3" y="45.6" font-size="12" fill="#131722" >·</text>
<text x="113.8" y="45.6" font-size="12" fill="#131722" textLength="12.4" lengthAdjust="spacingAndGlyphs" >4h</text>
<text x="130.8" y="45.6" font-size="12" fill="#131722" >·</text>
<text x="138.7" y="45.6" font-size="12" fill="#131722" textLength="41" lengthAdjust="spacingAndGlyphs" >Binance</text>
<text x="186.8" y="45.6" font-size="12" fill="#131722" >O</text>
<text x="232.6" y="45.6" font-size="12" fill="#131722" >H</text>
<text x="276.9" y="45.6" font-size="12" fill="#131722" >L</text>
<text x="319.4" y="45.6" font-size="12" fill="#131722" >C</text>
<text x="457.2" y="45.6" font-size="12" fill="#131722" textLength="15.3" lengthAdjust="spacingAndGlyphs" >Vol</text>
<text x="195.9" y="45.6" font-size="12" fill="#1fa891" textLength="28.1" lengthAdjust="spacingAndGlyphs" >4.101</text>
<text x="240.7" y="45.6" font-size="12" fill="#1fa891" textLength="28.6" lengthAdjust="spacingAndGlyphs" >4.128</text>
<text x="283.4" y="45.6" font-size="12" fill="#1fa891" textLength="29" lengthAdjust="spacingAndGlyphs" >4.063</text>
<text x="326.9" y="45.6" font-size="12" fill="#1fa891" textLength="29.7" lengthAdjust="spacingAndGlyphs" >4.110</text>
<text x="364.6" y="45.6" font-size="12" fill="#1fa891" textLength="83.8" lengthAdjust="spacingAndGlyphs" >+0.009 (+0.22%)</text>
<text x="473.2" y="45.6" font-size="12" fill="#1fa891" textLength="33.3" lengthAdjust="spacingAndGlyphs" >1.38 M</text>
<text x="18.3" y="62.6" font-size="12" fill="#131722" textLength="24.1" lengthAdjust="spacingAndGlyphs" >Auto</text>
<text x="46.8" y="62.6" font-size="12" fill="#131722" textLength="15.7" lengthAdjust="spacingAndGlyphs" >Fib</text>
<text x="67.4" y="62.6" font-size="12" fill="#131722" textLength="67.7" lengthAdjust="spacingAndGlyphs" >Retracement</text>
<text x="140.5" y="62.6" font-size="12" fill="#131722" textLength="17.6" lengthAdjust="spacingAndGlyphs" >(10,</text>
<text x="164.5" y="62.6" font-size="12" fill="#131722" textLength="16.2" lengthAdjust="spacingAndGlyphs" >13)</text>
<text x="17.8" y="79.6" font-size="12" fill="#131722" textLength="31.4" lengthAdjust="spacingAndGlyphs" >Smart</text>
<text x="53.2" y="79.6" font-size="12" fill="#131722" textLength="34.3" lengthAdjust="spacingAndGlyphs" >Money</text>
<text x="90.8" y="79.6" font-size="12" fill="#131722" textLength="48.7" lengthAdjust="spacingAndGlyphs" >Concepts</text>
<text x="144" y="79.6" font-size="12" fill="#131722" textLength="49.4" lengthAdjust="spacingAndGlyphs" >[LuxAlgo]</text>
<text x="198.3" y="79.6" font-size="12" fill="#131722" textLength="57.9" lengthAdjust="spacingAndGlyphs" >(Historical,</text>
<text x="261.1" y="79.6" font-size="12" fill="#131722" textLength="44.2" lengthAdjust="spacingAndGlyphs" >Colored,</text>
<text x="310.2" y="79.6" font-size="12" fill="#131722" textLength="17.6" lengthAdjust="spacingAndGlyphs" >All,</text>
<text x="332.7" y="79.6" font-size="12" fill="#131722" textLength="17.7" lengthAdjust="spacingAndGlyphs" >All,</text>
<text x="354.9" y="79.6" font-size="12" fill="#131722" textLength="24.7" lengthAdjust="spacingAndGlyphs" >Tiny,</text>
<text x="383.9" y="79.6" font-size="12" fill="#131722" textLength="17.3" lengthAdjust="spacingAndGlyphs" >All,</text>
<text x="406.1" y="79.6" font-size="12" fill="#131722" textLength="17.7" lengthAdjust="spacingAndGlyphs" >All,</text>
<text x="428.3" y="79.6" font-size="12" fill="#131722" textLength="32.7" lengthAdjust="spacingAndGlyphs" >Small,</text>
<text x="465.6" y="79.6" font-size="12" fill="#131722" textLength="16" lengthAdjust="spacingAndGlyphs" >50,</text>
<text x="486.5" y="79.6" font-size="12" fill="#131722" textLength="15.7" lengthAdjust="spacingAndGlyphs" >10,</text>
<text x="507.1" y="79.6" font-size="12" fill="#131722" textLength="15.7" lengthAdjust="spacingAndGlyphs" >10,</text>
<text x="527.2" y="79.6" font-size="12" fill="#131722" textLength="18.2" lengthAdjust="spacingAndGlyphs" >Atr,</text>
<text x="549.9" y="79.6" font-size="12" fill="#131722" textLength="10.2" lengthAdjust="spacingAndGlyphs" >3,</text>
<text x="564.4" y="79.6" font-size="12" fill="#131722" textLength="20.2" lengthAdjust="spacingAndGlyphs" >0.1,</text>
<text x="589.5" y="79.6" font-size="12" fill="#131722" textLength="22" lengthAdjust="spacingAndGlyphs" >Tiny,</text>
<text x="619.4" y="79.6" font-size="12" fill="#131722" >,</text>
<text x="626.8" y="79.6" font-size="12" fill="#131722" textLength="8.8" lengthAdjust="spacingAndGlyphs" >1,</text>
<g shape-rendering="crispEdges">
<rect x="641" y="76" width="18" height="1" fill="#131722" />
<rect x="667" y="76" width="18" height="1" fill="#131722" />
<rect x="693" y="76" width="18" height="1" fill="#131722" />
</g>
<text x="659" y="79.6" font-size="12" fill="#131722" >,</text>
<text x="685" y="79.6" font-size="12" fill="#131722" >,</text>
<text x="710.6" y="79.6" font-size="12" fill="#131722" >)</text>
<text x="18.8" y="96.4" font-size="12" fill="#131722" textLength="49" lengthAdjust="spacingAndGlyphs" >Vol · DOT</text>
<text x="76.3" y="96.4" font-size="12" fill="#1fa891" textLength="32.9" lengthAdjust="spacingAndGlyphs" >1.38 M</text>
<text x="1767.9" y="778" font-size="12" fill="#131722" textLength="29.5" lengthAdjust="spacingAndGlyphs" >3.600</text>
<text x="1767.9" y="721.4" font-size="12" fill="#131722" textLength="29.5" lengthAdjust="spacingAndGlyphs" >3.700</text>
<text x="1767.9" y="664.8" font-size="12" fill="#131722" textLength="29.5" lengthAdjust="spacingAndGlyphs" >3.800</text>
<text x="1767.9" y="608.2" font-size="12" fill="#131722" textLength="29.5" lengthAdjust="spacingAndGlyphs" >3.900</text>
<text x="1767.9" y="551.6" font-size="12" fill="#131722" textLength="29.5" lengthAdjust="spacingAndGlyphs" >4.000</text>
<text x="1767.9" y="381.8" font-size="12" fill="#131722" textLength="29.5" lengthAdjust="spacingAndGlyphs" >4.300</text>
<text x="1767.9" y="325.2" font-size="12" fill="#131722" textLength="29.5" lengthAdjust="spacingAndGlyphs" >4.400</text>
<text x="1767.9" y="268.6" font-size="12" fill="#131722" textLength="29.5" lengthAdjust="spacingAndGlyphs" >4.500</text>
<text x="1767.9" y="212" font-size="12" fill="#131722" textLength="29.5" lengthAdjust="spacingAndGlyphs" >4.600</text>
<text x="1767.9" y="155.4" font-size="12" fill="#131722" textLength="29.5" lengthAdjust="spacingAndGlyphs" >4.700</text>
<text x="1767.9" y="98.8" font-size="12" fill="#131722" textLength="29.5" lengthAdjust="spacingAndGlyphs" >4.800</text>
<rect x="1763.5" y="31.3" width="57.3" height="25.6" rx="4.5" fill="#fff" stroke="#f1f2f4" stroke-width="1.8"/>
<text x="1772.2" y="48.9" font-size="12" fill="#131722" textLength="27.2" lengthAdjust="spacingAndGlyphs" >USDT</text>
<rect x="1760" y="428" width="43" height="16.8" rx="2" fill="#2196f3"/>
<text x="1768" y="440.3" font-size="12" fill="#fff" textLength="29.4" lengthAdjust="spacingAndGlyphs" font-weight="bold" >4.196</text>
<rect x="1760" y="456.1" width="43" height="16.7" rx="2" fill="#2196f3"/>
<text x="1768" y="468.6" font-size="12" fill="#fff" textLength="29.4" lengthAdjust="spacingAndGlyphs" font-weight="bold" >4.147</text>
<rect x="1760" y="507" width="43" height="34.8" rx="2" fill="#2196f3"/>
<text x="1768" y="520.6" font-size="12" fill="#fff" textLength="29.4" lengthAdjust="spacingAndGlyphs" font-weight="bold" >4.079</text>
<text x="1768" y="537.7" font-size="12" fill="#fff" textLength="29.4" lengthAdjust="spacingAndGlyphs" font-weight="bold" >4.032</text>
<rect x="1760" y="477" width="60" height="31" rx="2" fill="#089981"/>
<text x="1768" y="489.6" font-size="12" fill="#fff" textLength="29.4" lengthAdjust="spacingAndGlyphs" font-weight="bold" >4.110</text>
<text x="1768" y="503.8" font-size="12" fill="rgba(255,255,255,0.8)" textLength="46.2" lengthAdjust="spacingAndGlyphs" >01:24:57</text>
<rect x="1700" y="477" width="59" height="17" rx="2" fill="#089981"/>
<text x="1704.8" y="489.9" font-size="12" fill="#fff" textLength="49.2" lengthAdjust="spacingAndGlyphs" stroke="#fff" stroke-width="0.3">DOTUSDT</text>
<text x="35.5" y="812.8" font-size="12" fill="#131722" text-anchor="middle" >18</text>
<text x="112.5" y="812.8" font-size="12" fill="#131722" text-anchor="middle" >19</text>
<text x="190.5" y="812.8" font-size="12" fill="#131722" text-anchor="middle" >20</text>
<text x="267.5" y="812.8" font-size="12" fill="#131722" text-anchor="middle" >21</text>
<text x="345.5" y="812.8" font-size="12" fill="#131722" text-anchor="middle" >22</text>
<text x="422.5" y="812.8" font-size="12" fill="#131722" text-anchor="middle" >23</text>
<text x="499.5" y="812.8" font-size="12" fill="#131722" text-anchor="middle" >24</text>
<text x="577.5" y="812.8" font-size="12" fill="#131722" text-anchor="middle" >25</text>
<text x="654.5" y="812.8" font-size="12" fill="#131722" text-anchor="middle" >26</text>
<text x="731.5" y="812.8" font-size="12" fill="#131722" text-anchor="middle" >27</text>
<text x="809.5" y="812.8" font-size="12" fill="#131722" text-anchor="middle" >28</text>
<text x="886.5" y="812.8" font-size="12" fill="#131722" text-anchor="middle" >29</text>
<text x="964.5" y="812.8" font-size="12" fill="#131722" text-anchor="middle" >30</text>
<text x="1041.5" y="812.8" font-size="12" fill="#131722" text-anchor="middle" textLength="19" lengthAdjust="spacingAndGlyphs" stroke="#131722" stroke-width="0.35">Oct</text>
<text x="1118.5" y="812.8" font-size="12" fill="#131722" text-anchor="middle" >2</text>
<text x="1196.5" y="812.8" font-size="12" fill="#131722" text-anchor="middle" >3</text>
<text x="1273.5" y="812.8" font-size="12" fill="#131722" text-anchor="middle" >4</text>
<text x="1351.5" y="812.8" font-size="12" fill="#131722" text-anchor="middle" >5</text>
<text x="1428.5" y="812.8" font-size="12" fill="#131722" text-anchor="middle" >6</text>
<text x="1505.5" y="812.8" font-size="12" fill="#131722" text-anchor="middle" >7</text>
<text x="1583.5" y="812.8" font-size="12" fill="#131722" text-anchor="middle" >8</text>
<text x="1660.5" y="812.8" font-size="12" fill="#131722" text-anchor="middle" >9</text>
<text x="1737.5" y="812.8" font-size="12" fill="#131722" text-anchor="middle" >10</text>
<circle cx="1596.5" cy="782.2" r="11.4" fill="#fff"/><circle cx="1596.5" cy="782.2" r="9.9" fill="#fff" stroke="#9c27b0" stroke-width="1.5"/>
<path d="M1599.8 776.9L1592.1 782.4L1596 783L1593.3 787.8L1600.8 782.2L1597 781.6Z" fill="#9c27b0"/>
<g fill="#131313"><path d="M11.9 845.1h11.7v14.6h-5.7v-9H11.9z"/><circle cx="29" cy="848" r="2.9"/><path d="M33.6 845.1h8.4l-5.8 14.6h-7.2z"/></g>
<text x="48.9" y="859.7" font-size="20.4" fill="#131313" textLength="121" lengthAdjust="spacingAndGlyphs" font-weight="bold" >TradingView</text>
</svg>
</body></html>
